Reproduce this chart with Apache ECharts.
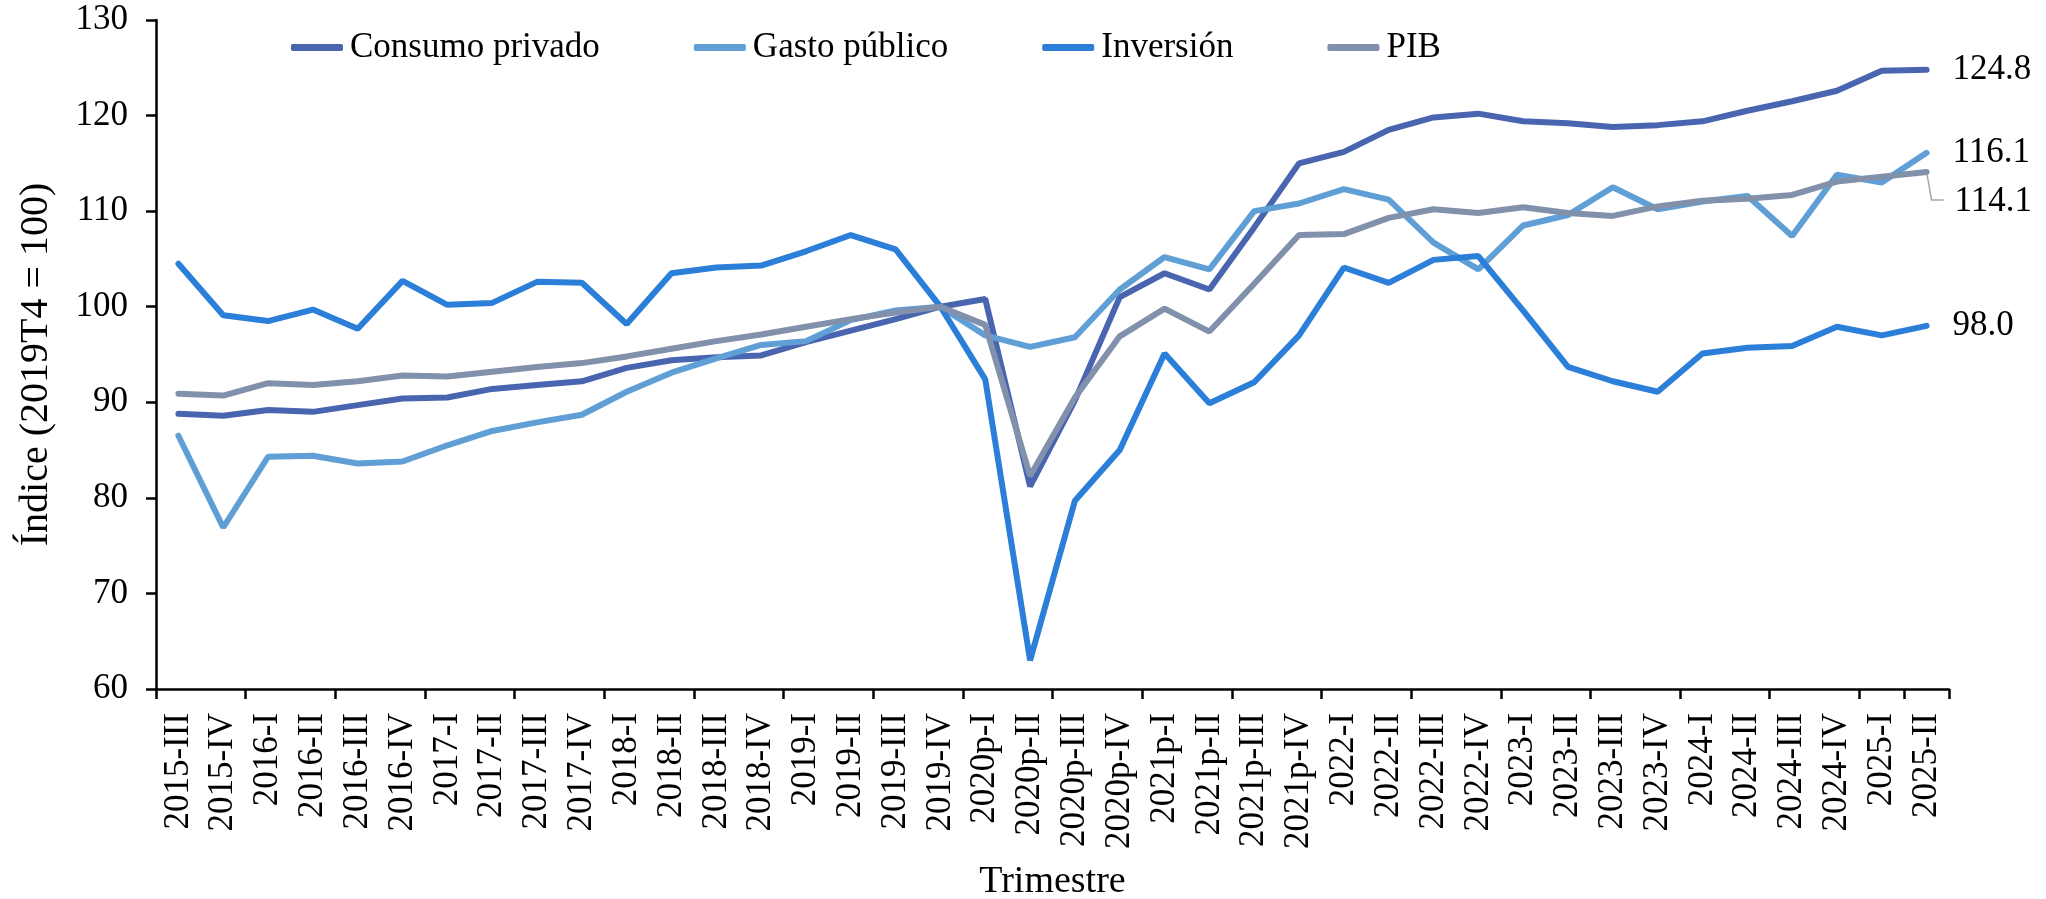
<!DOCTYPE html>
<html>
<head>
<meta charset="utf-8">
<script src="https://cdn.jsdelivr.net/npm/echarts@6/dist/echarts.min.js"></script>
<style>
html,body{margin:0;padding:0;background:#fff;}
#chart{width:2046px;height:899px;}
</style>
</head>
<body>
<div id="chart"></div>
<script>
const categories = ["2015-III","2015-IV","2016-I","2016-II","2016-III","2016-IV","2017-I","2017-II","2017-III","2017-IV","2018-I","2018-II","2018-III","2018-IV","2019-I","2019-II","2019-III","2019-IV","2020p-I","2020p-II","2020p-III","2020p-IV","2021p-I","2021p-II","2021p-III","2021p-IV","2022-I","2022-II","2022-III","2022-IV","2023-I","2023-II","2023-III","2023-IV","2024-I","2024-II","2024-III","2024-IV","2025-I","2025-II"];
const consumoPrivado = [88.8,88.6,89.2,89.0,89.7,90.4,90.5,91.4,91.8,92.2,93.6,94.4,94.7,94.9,96.3,97.5,98.7,100.0,100.8,81.2,90.2,101.0,103.5,101.8,108.3,115.0,116.2,118.5,119.8,120.2,119.4,119.2,118.8,119.0,119.4,120.5,121.5,122.6,124.7,124.8];
const gastoPublico = [86.5,76.9,84.3,84.4,83.6,83.8,85.5,87.0,87.9,88.7,91.1,93.1,94.6,96.0,96.4,98.6,99.6,100.0,97.0,95.8,96.8,101.8,105.2,103.9,110.0,110.8,112.3,111.2,106.7,103.9,108.5,109.6,112.5,110.2,111.0,111.6,107.4,113.8,113.0,116.1];
const inversion = [104.5,99.1,98.5,99.7,97.7,102.7,100.2,100.4,102.6,102.5,98.2,103.5,104.1,104.3,105.8,107.5,106.0,100.0,92.4,63.0,79.7,85.0,95.1,89.9,92.1,97.0,104.1,102.5,104.9,105.3,99.6,93.7,92.2,91.1,95.1,95.7,95.9,97.9,97.0,98.0];
const pib = [90.9,90.7,92.0,91.8,92.2,92.8,92.7,93.2,93.7,94.1,94.8,95.6,96.4,97.1,97.9,98.7,99.4,100.0,98.1,82.3,90.5,96.9,99.8,97.4,102.4,107.5,107.6,109.3,110.2,109.8,110.4,109.8,109.5,110.5,111.1,111.3,111.7,113.1,113.6,114.1];
const seriesNames = ["Consumo privado","Gasto público","Inversión","PIB"];
const yTicks = {min: 60, max: 130, interval: 10};

const FONT = "'Liberation Serif', 'Times New Roman', serif";
const FS = 35;
const colors = ["#4a65b0", "#5f9fd6", "#2b7fd8", "#8190ab"];
const dataSets = [consumoPrivado, gastoPublico, inversion, pib];

const chart = echarts.init(document.getElementById('chart'), null, {renderer: 'canvas'});

const series = seriesNames.map((name, i) => ({
  name: name,
  type: 'line',
  data: dataSets[i],
  symbol: 'none',
  showSymbol: false,
  color: colors[i],
  lineStyle: {width: 6, color: colors[i], cap: 'round'},
  itemStyle: {color: colors[i]},
  z: 2 + i,
  endLabel: {
    show: true,
    distance: 26,
    offset: i === 3 ? [2, 30] : [0, 0],
    formatter: (p) => Number(p.value).toFixed(1),
    fontFamily: FONT,
    fontSize: FS,
    color: '#000'
  }
}));

const option = {
  animation: false,
  backgroundColor: '#fff',
  textStyle: {fontFamily: FONT},
  grid: {left: 156, right: 97, top: 20, bottom: 210, containLabel: false, outerBoundsMode: 'none'},
  legend: {
    left: 286,
    top: 25,
    itemGap: 94,
    itemWidth: 52,
    itemHeight: 7,
    icon: 'roundRect',
    data: seriesNames,
    textStyle: {fontSize: FS, color: '#000', fontFamily: FONT, padding: [0, 0, 0, 2]}
  },
  xAxis: {
    type: 'category',
    data: categories,
    boundaryGap: true,
    axisLine: {show: true, lineStyle: {color: '#000', width: 2.5}},
    axisTick: {show: true, interval: 1, length: 10, lineStyle: {color: '#000', width: 2.5}},
    axisLabel: {interval: 0, rotate: 90, margin: 24, fontSize: FS, color: '#000', fontFamily: FONT},
    splitLine: {show: false},
    name: 'Trimestre',
    nameLocation: 'middle',
    nameGap: 174,
    nameTextStyle: {fontSize: 38, color: '#000', fontFamily: FONT}
  },
  yAxis: {
    type: 'value',
    min: yTicks.min,
    max: yTicks.max,
    interval: yTicks.interval,
    axisLine: {show: true, lineStyle: {color: '#000', width: 2.5}},
    axisTick: {show: true, length: 10, lineStyle: {color: '#000', width: 2.5}},
    axisLabel: {margin: 28, fontSize: FS, color: '#000', fontFamily: FONT},
    splitLine: {show: false},
    name: 'Índice (2019T4 = 100)',
    nameLocation: 'middle',
    nameGap: 100,
    nameTextStyle: {fontSize: 40, color: '#000', fontFamily: FONT, padding: [0, 20, 0, 0]}
  },
  series: series
};

chart.setOption(option);

// leader line from the PIB end point to its displaced end label
const last = pib.length - 1;
const p = chart.convertToPixel({seriesIndex: 3}, [last, pib[last]]);
chart.setOption({
  graphic: [{
    type: 'polyline',
    z: 1,
    shape: {points: [[p[0], p[1]], [p[0] + 5, p[1] + 28], [p[0] + 17, p[1] + 28]]},
    style: {stroke: '#a6a6a6', lineWidth: 1.5, fill: null}
  }]
});
</script>
</body>
</html>
